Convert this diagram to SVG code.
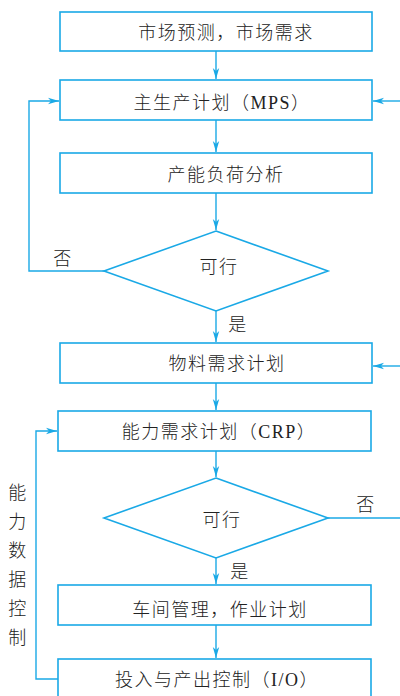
<svg xmlns="http://www.w3.org/2000/svg" width="400" height="696" viewBox="0 0 400 696">
<defs>
<marker id="ah" markerWidth="12" markerHeight="8" refX="11" refY="4" orient="auto" markerUnits="userSpaceOnUse">
<path d="M0,0.8 L11,4 L0,7.2 L3,4 Z" fill="#1aa9e6"/>
</marker>
</defs>
<style>
.b{fill:#fff;stroke:#1aa9e6;stroke-width:1.6}
.c{fill:none;stroke:#1aa9e6;stroke-width:1.4}
.t{font-family:"Liberation Serif","Noto Sans CJK SC",serif;font-size:18px;font-weight:300;fill:#222;text-anchor:middle;letter-spacing:1.5px}
</style>
<rect width="400" height="696" fill="#fff"/>
<g id="connectors">
<line class="c" x1="216" y1="51" x2="216" y2="79" marker-end="url(#ah)"/>
<line class="c" x1="216" y1="120" x2="216" y2="152" marker-end="url(#ah)"/>
<line class="c" x1="216" y1="193" x2="216" y2="230" marker-end="url(#ah)"/>
<line class="c" x1="216" y1="311" x2="216" y2="342" marker-end="url(#ah)"/>
<line class="c" x1="216" y1="383" x2="216" y2="410" marker-end="url(#ah)"/>
<line class="c" x1="216" y1="451" x2="216" y2="477" marker-end="url(#ah)"/>
<line class="c" x1="216" y1="558" x2="216" y2="584" marker-end="url(#ah)"/>
<line class="c" x1="216" y1="625" x2="216" y2="658" marker-end="url(#ah)"/>
<polyline class="c" points="104,271 29,271 29,101 59,101" marker-end="url(#ah)"/>
<line class="c" x1="400" y1="101" x2="373" y2="101" marker-end="url(#ah)"/>
<line class="c" x1="400" y1="366" x2="373" y2="366" marker-end="url(#ah)"/>
<line class="c" x1="328" y1="518" x2="400" y2="518"/>
<polyline class="c" points="58,679 36,679 36,431 57,431" marker-end="url(#ah)"/>
</g>
<g id="n1"><rect class="b" x="60" y="12" width="312" height="39"/><text class="t" x="226" y="39">市场预测，市场需求</text></g>
<g id="n2"><rect class="b" x="60" y="80" width="312" height="40"/><text class="t" x="222" y="109">主生产计划（MPS）</text></g>
<g id="n3"><rect class="b" x="60" y="153" width="312" height="40"/><text class="t" x="226" y="181">产能负荷分析</text></g>
<g id="d1"><polygon class="b" points="216,231 328,271 216,311 104,271"/><text class="t" x="219" y="273">可行</text></g>
<g id="l1"><text class="t" x="63" y="265">否</text><text class="t" x="238" y="331">是</text></g>
<g id="n4"><rect class="b" x="60" y="343" width="312" height="40"/><text class="t" x="227" y="370">物料需求计划</text></g>
<g id="n5"><rect class="b" x="58" y="411" width="313" height="40"/><text class="t" x="219" y="438">能力需求计划（CRP）</text></g>
<g id="d2"><polygon class="b" points="216,478 328,518 216,558 104,518"/><text class="t" x="222" y="526">可行</text></g>
<g id="l2"><text class="t" x="366" y="511">否</text><text class="t" x="240" y="578">是</text></g>
<g id="n6"><rect class="b" x="58" y="585" width="313" height="40"/><text class="t" x="220" y="616">车间管理，作业计划</text></g>
<g id="n7"><rect class="b" x="58" y="659" width="313" height="44"/><text class="t" x="217" y="686">投入与产出控制（I/O）</text></g>
<g id="side">
<text class="t" x="18" y="499">能</text>
<text class="t" x="18" y="528">力</text>
<text class="t" x="18" y="557">数</text>
<text class="t" x="18" y="586">据</text>
<text class="t" x="18" y="615">控</text>
<text class="t" x="18" y="644">制</text>
</g>
</svg>
